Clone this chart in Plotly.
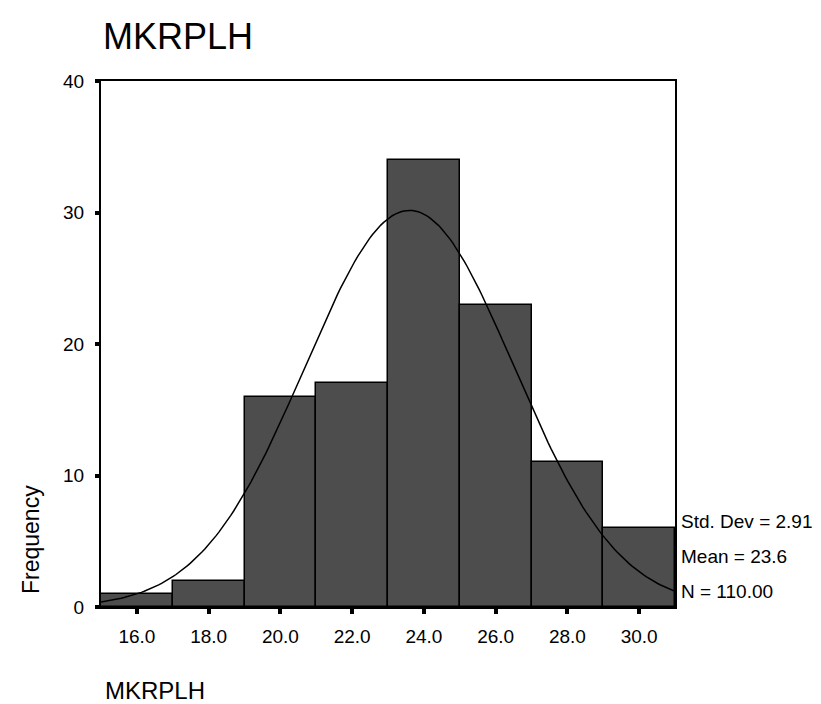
import numpy as np
import plotly.graph_objects as go

# Data
bin_centers = [16.0, 18.0, 20.0, 22.0, 24.0, 26.0, 28.0, 30.0]
frequencies = [1, 2, 16, 17, 34, 23, 11, 6]
bin_width = 2.0
std_dev = 2.91
mean_val = 23.6
n_val = 110
x_tick_vals = [16, 18, 20, 22, 24, 26, 28, 30]
x_tick_text = ["16.0", "18.0", "20.0", "22.0", "24.0", "26.0", "28.0", "30.0"]
y_tick_vals = [0, 10, 20, 30, 40]
y_tick_text = ["0", "10", "20", "30", "40"]

# Fitted normal curve from the displayed statistics
cx = np.linspace(15, 31, 200)
cy = n_val * bin_width / (std_dev * np.sqrt(2 * np.pi)) * np.exp(-0.5 * ((cx - mean_val) / std_dev) ** 2)

FONT = "Liberation Sans, Arial, sans-serif"

fig = go.Figure()
fig.add_trace(go.Bar(
    x=bin_centers, y=frequencies, width=bin_width,
    marker=dict(color="#4d4d4d", line=dict(color="black", width=1.5)),
    showlegend=False, hoverinfo="x+y",
))
fig.add_trace(go.Scatter(
    x=cx, y=cy, mode="lines", line=dict(color="black", width=1.5),
    showlegend=False, hoverinfo="skip",
))

W, H = 821, 704
L, R, T, B = 93, 154, 73, 105
fig.update_layout(
    width=W, height=H,
    margin=dict(l=L, r=R, t=T, b=B),
    paper_bgcolor="white", plot_bgcolor="white",
    font=dict(family=FONT, color="black", size=19),
    bargap=0,
    title=dict(text="MKRPLH", x=95 / W, xanchor="left", xref="container",
               y=1 - 28 / H, yanchor="middle",
               font=dict(size=36, family=FONT, color="black")),
)
fig.update_xaxes(
    range=[15, 31], tickvals=x_tick_vals, ticktext=x_tick_text,
    showgrid=False, zeroline=False,
    showline=True, linecolor="black", linewidth=2, mirror=True,
    ticks="outside", ticklen=5, tickwidth=4, tickcolor="black",
    ticklabelstandoff=6,
    tickfont=dict(size=19, family=FONT),
)
fig.update_yaxes(
    range=[0, 40], tickvals=y_tick_vals, ticktext=y_tick_text,
    showgrid=False, zeroline=False,
    showline=True, linecolor="black", linewidth=2, mirror=True,
    ticks="outside", ticklen=4, tickwidth=4, tickcolor="black",
    ticklabelstandoff=7,
    tickfont=dict(size=19, family=FONT),
)

plot_h = H - T - B
def ypaper(py):
    return (H - B - py) / plot_h

annotations = [
    dict(text="Std. Dev = %.2f" % std_dev, x=1, y=ypaper(513)),
    dict(text="Mean = %.1f" % mean_val, x=1, y=ypaper(548)),
    dict(text="N = %.2f" % n_val, x=1, y=ypaper(583)),
]
for a in annotations:
    fig.add_annotation(xref="paper", yref="paper", xanchor="left", yanchor="middle",
                       xshift=4, showarrow=False, font=dict(size=19, family=FONT),
                       **a)

# Axis titles as annotations for exact placement
fig.add_annotation(text="MKRPLH", xref="paper", yref="paper",
                   x=(95 - L) / (W - L - R), y=ypaper(682), xanchor="left", yanchor="middle",
                   showarrow=False, font=dict(size=24, family=FONT))
fig.add_annotation(text="Frequency", xref="paper", yref="paper",
                   x=(23 - L) / (W - L - R), y=ypaper(532), xanchor="center", yanchor="middle",
                   textangle=-90, showarrow=False, font=dict(size=23, family=FONT))

fig.write_html("out.html")
